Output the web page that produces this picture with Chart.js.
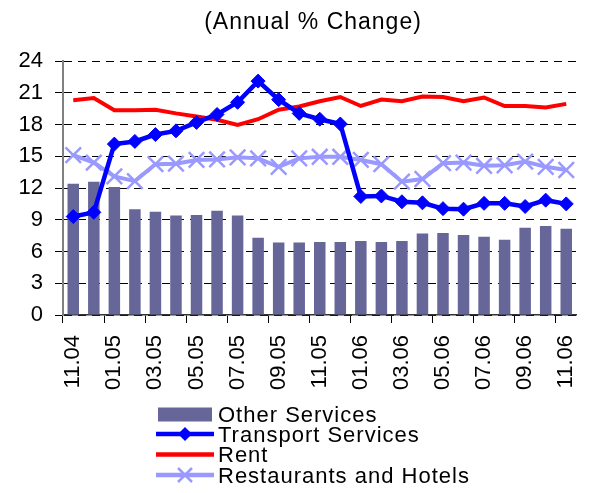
<!DOCTYPE html>
<html lang="en">
<head>
    <meta charset="UTF-8">
    <title>Services - Annual % Change</title>
    <script src="https://cdn.jsdelivr.net/npm/chart.js"></script>
    <style>
        body { margin: 0; background: #fff; }
    </style>
</head>
<body>

<canvas id="servicesChart" width="590" height="493"></canvas>

<script>
    // data, monthly 11.04 - 11.06
    const months = ['11.04', '12.04', '01.05', '02.05', '03.05', '04.05', '05.05', '06.05', '07.05', '08.05',
        '09.05', '10.05', '11.05', '12.05', '01.06', '02.06', '03.06', '04.06', '05.06', '06.06',
        '07.06', '08.06', '09.06', '10.06', '11.06'];
    const otherServices = [12.4, 12.6, 12.1, 10.0, 9.75, 9.4, 9.45, 9.85, 9.4, 7.3, 6.85, 6.85, 6.9,
        6.9, 7.0, 6.9, 7.0, 7.7, 7.75, 7.55, 7.4, 7.1, 8.25, 8.4, 8.15];
    const transport = [9.3, 9.7, 16.15, 16.4, 17.05, 17.4, 18.2, 18.95, 20.1, 22.1, 20.35, 19.05, 18.5,
        18.05, 11.2, 11.25, 10.7, 10.6, 10.05, 10.0, 10.55, 10.55, 10.25, 10.85, 10.5];
    const rent = [20.3, 20.5, 19.35, 19.35, 19.4, 19.05, 18.75, 18.45, 17.95, 18.5, 19.4, 19.7, 20.2,
        20.6, 19.75, 20.35, 20.2, 20.65, 20.6, 20.2, 20.55, 19.75, 19.75, 19.6, 19.95];
    const restaurants = [15.1, 14.4, 13.1, 12.65, 14.25, 14.3, 14.65, 14.7, 14.9, 14.8, 14.0, 14.8, 14.95,
        14.95, 14.65, 14.25, 12.6, 12.85, 14.35, 14.4, 14.1, 14.15, 14.5, 14.0, 13.7];
    const seriesNames = ['Other Services', 'Transport Services', 'Rent', 'Restaurants and Hotels'];
    const chartTitle = '(Annual % Change)';

    const FONT = "'Liberation Sans', Arial, sans-serif";

    // title and legend are drawn by hand, the built-in legend can't do this one-column layout
    const titleAndLegend = {
        id: 'titleAndLegend',
        afterDraw(chart) {
            const ctx = chart.ctx;
            const ds = chart.data.datasets;
            ctx.save();
            ctx.letterSpacing = '1px';
            ctx.fillStyle = '#000';
            ctx.font = '23px ' + FONT;
            ctx.textAlign = 'center';
            ctx.textBaseline = 'alphabetic';
            ctx.fillText(chartTitle, 313, 29);

            const rows = [414.5, 434, 454.5, 475];
            ctx.font = '22px ' + FONT;
            ctx.textAlign = 'left';
            ds.forEach((d, i) => {
                const y = rows[i];
                if (d.type === 'bar' || !d.type) {
                    ctx.fillStyle = d.backgroundColor;
                    ctx.fillRect(158, y - 7, 54, 14);
                } else {
                    ctx.strokeStyle = d.borderColor;
                    ctx.lineWidth = 4.5;
                    ctx.beginPath();
                    ctx.moveTo(156, y);
                    ctx.lineTo(214, y);
                    ctx.stroke();
                    if (d.pointStyle === 'rectRot') {
                        ctx.fillStyle = d.borderColor;
                        ctx.beginPath();
                        ctx.moveTo(185, y - 7);
                        ctx.lineTo(192, y);
                        ctx.lineTo(185, y + 7);
                        ctx.lineTo(178, y);
                        ctx.closePath();
                        ctx.fill();
                    } else if (d.pointStyle === 'crossRot') {
                        ctx.lineWidth = 2.5;
                        ctx.beginPath();
                        ctx.moveTo(178, y - 7);
                        ctx.lineTo(192, y + 7);
                        ctx.moveTo(192, y - 7);
                        ctx.lineTo(178, y + 7);
                        ctx.stroke();
                    }
                }
                ctx.fillStyle = '#000';
                ctx.fillText(d.label, 218, y + 7.5);
            });
            ctx.restore();
        }
    };

    const ctx = document.getElementById('servicesChart').getContext('2d');
    new Chart(ctx, {
        type: 'bar',
        data: {
            labels: months,
            datasets: [
                {
                    label: seriesNames[0],
                    data: otherServices,
                    backgroundColor: '#666699',
                    categoryPercentage: 0.8,
                    barPercentage: 0.7,
                    order: 4,
                },
                {
                    type: 'line',
                    label: seriesNames[1],
                    data: transport,
                    borderColor: '#0000ff',
                    backgroundColor: '#0000ff',
                    borderWidth: 4.5,
                    pointStyle: 'rectRot',
                    pointRadius: 7,
                    pointBorderWidth: 1,
                    tension: 0,
                    order: 1,
                },
                {
                    type: 'line',
                    label: seriesNames[2],
                    data: rent,
                    borderColor: '#ff0000',
                    backgroundColor: '#ff0000',
                    borderWidth: 4,
                    pointRadius: 0,
                    tension: 0,
                    order: 2,
                },
                {
                    type: 'line',
                    label: seriesNames[3],
                    data: restaurants,
                    borderColor: '#9999ff',
                    backgroundColor: '#9999ff',
                    borderWidth: 4,
                    pointStyle: 'crossRot',
                    pointRadius: 11,
                    pointBorderWidth: 2.5,
                    tension: 0,
                    order: 3,
                },
            ],
        },
        options: {
            responsive: false,
            animation: false,
            layout: {
                padding: { top: 61, right: 7, bottom: 88, left: 0 },
            },
            plugins: {
                legend: { display: false },
                title: { display: false },
                tooltip: { enabled: false },
            },
            scales: {
                x: {
                    offset: true,
                    grid: {
                        offset: true,
                        drawOnChartArea: false,
                        tickLength: 8,
                        color: (c) => (c.index % 2 === 0 ? '#000' : 'rgba(0,0,0,0)'),
                    },
                    border: { color: '#333', width: 1.5 },
                    ticks: {
                        autoSkip: false,
                        minRotation: 90,
                        maxRotation: 90,
                        padding: 12,
                        color: '#000',
                        font: { family: FONT, size: 22 },
                        callback: (v, i) => (i % 2 === 0 ? months[i] : ''),
                    },
                    afterFit(scale) {
                        scale.height = 90;
                        scale.paddingLeft = 0;
                        scale.paddingRight = 0;
                    },
                },
                y: {
                    min: 0,
                    max: 24,
                    grid: {
                        color: '#000',
                        lineWidth: 1,
                        tickLength: 8,
                        tickColor: '#000',
                        tickBorderDash: [],
                    },
                    border: { color: '#808080', width: 2, dash: [8, 6] },
                    ticks: {
                        stepSize: 3,
                        padding: 12,
                        color: '#000',
                        font: { family: FONT, size: 22 },
                    },
                    afterFit(scale) {
                        scale.width = 63;
                    },
                },
            },
        },
        plugins: [titleAndLegend],
    });
</script>

</body>
</html>
